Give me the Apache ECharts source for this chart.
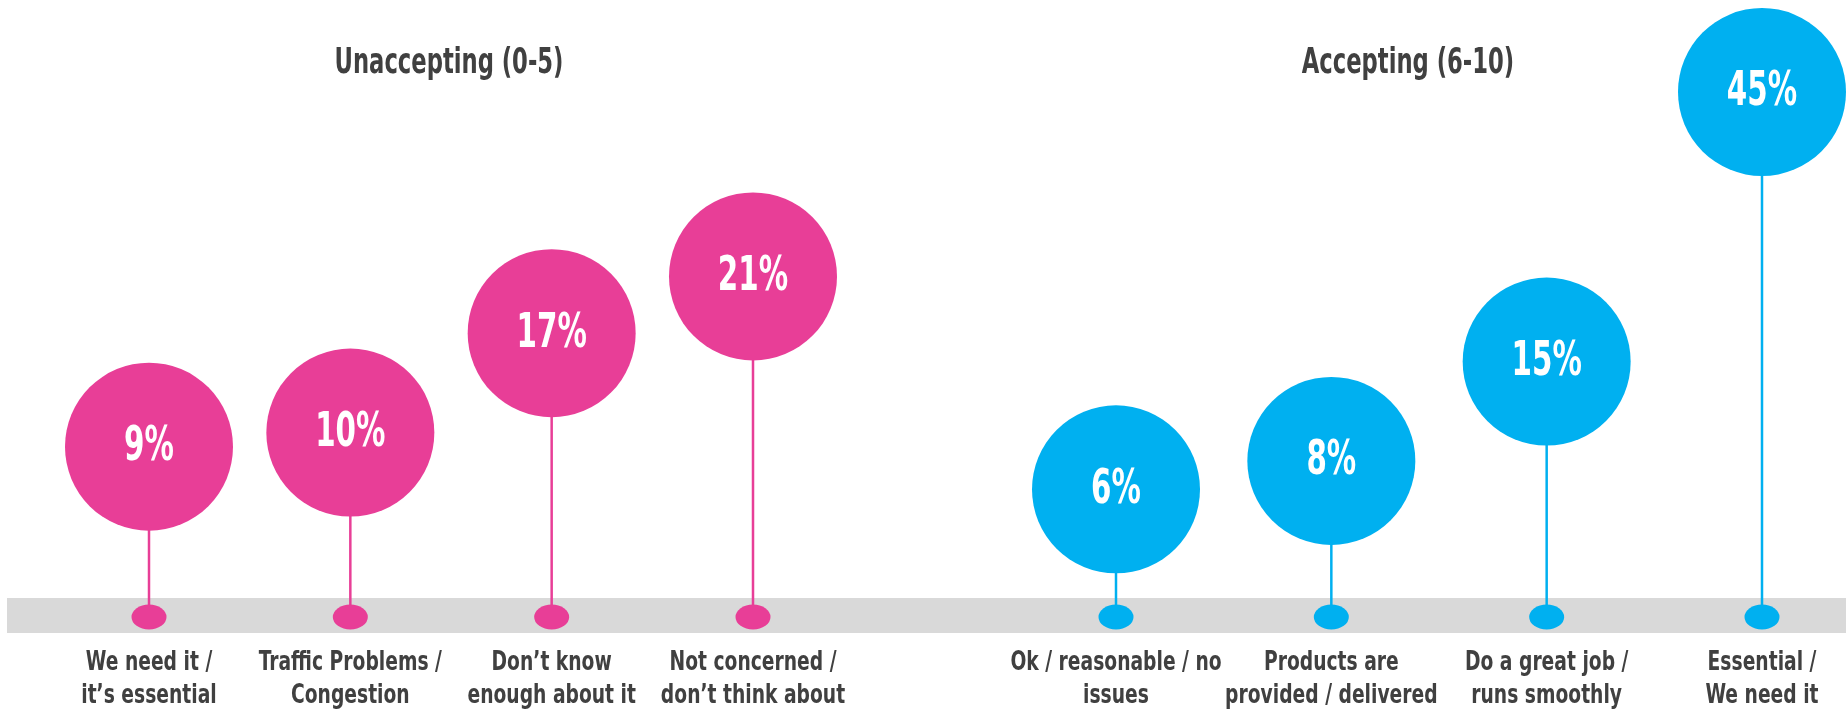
<!DOCTYPE html>
<html>
<head>
<meta charset="utf-8">
<script src="https://cdn.jsdelivr.net/npm/echarts@6/dist/echarts.min.js"></script>
<style>
html,body{margin:0;padding:0;background:#fff;}
#chart{width:1846px;height:721px;}
</style>
</head>
<body>
<div id="chart"></div>
<script>
// ---- data ----
const groupTitles = ['Unaccepting (0-5)', 'Accepting (6-10)'];
const unacceptingCategories = ['We need it /\nit’s essential', 'Traffic Problems /\nCongestion', 'Don’t know\nenough about it', 'Not concerned /\ndon’t think about'];
const unacceptingValues = [9, 10, 17, 21];
const acceptingCategories = ['Ok / reasonable / no\nissues', 'Products are\nprovided / delivered', 'Do a great job /\nruns smoothly', 'Essential /\nWe need it'];
const acceptingValues = [6, 8, 15, 45];

// ---- styling ----
const PINK = '#E83E97';
const BLUE = '#00B0F0';
const TEXT = '#404040';
const FONT = '"DejaVu Sans Condensed", "Liberation Sans Narrow", sans-serif';
const Y_MIN = -3;   // baseline (dots on the grey band)
const Y_CAP = 34;   // top of the plot; larger values are drawn at the top

const chart = echarts.init(document.getElementById('chart'), null, {renderer: 'canvas'});

function points(values, cats) {
  return values.map((v, i) => [i, Math.min(v, Y_CAP), v, cats[i]]);
}

function groupSeries(gi, values, cats, color) {
  const pts = points(values, cats);
  return [
    { // stems + category labels
      type: 'custom', xAxisIndex: gi, yAxisIndex: gi, z: 3, silent: true,
      data: pts,
      renderItem: function (params, api) {
        const i = params.dataIndex;
        const top = api.coord([api.value(0), api.value(1)]);
        const bot = api.coord([api.value(0), Y_MIN]);
        return {
          type: 'group',
          children: [
            {
              type: 'line',
              shape: {x1: bot[0], y1: bot[1], x2: top[0], y2: top[1]},
              style: {stroke: color, lineWidth: 2.5}
            },
            {
              type: 'text', x: bot[0], y: bot[1] + 30, scaleX: 0.8,
              style: {
                text: pts[i][3], fill: TEXT,
                fontFamily: FONT, fontWeight: 'bold', fontSize: 26, lineHeight: 33,
                align: 'center', verticalAlign: 'top', textAlign: 'center', textVerticalAlign: 'top'
              }
            }
          ]
        };
      }
    },
    { // dots on the band
      type: 'scatter', xAxisIndex: gi, yAxisIndex: gi, z: 4, silent: true,
      data: pts.map(p => [p[0], Y_MIN]),
      symbol: 'circle', symbolSize: [35, 25],
      itemStyle: {color: color, opacity: 1}
    },
    { // bubbles
      type: 'scatter', xAxisIndex: gi, yAxisIndex: gi, z: 5, silent: true,
      data: pts.map(p => [p[0], p[1]]),
      symbol: 'circle', symbolSize: 168,
      itemStyle: {color: color, opacity: 1}
    },
    { // percentage labels
      type: 'custom', xAxisIndex: gi, yAxisIndex: gi, z: 6, silent: true,
      data: pts,
      renderItem: function (params, api) {
        const i = params.dataIndex;
        const c = api.coord([api.value(0), api.value(1)]);
        return {
          type: 'text', x: c[0], y: c[1] + 1, scaleX: 0.68,
          style: {
            text: pts[i][2] + '%', fill: '#fff',
            fontFamily: FONT, fontWeight: 'bold', fontSize: 48,
            align: 'center', verticalAlign: 'middle', textAlign: 'center', textVerticalAlign: 'middle'
          }
        };
      }
    }
  ];
}

function xAxisFor(gi, cats) {
  return {
    type: 'category', gridIndex: gi, data: cats, boundaryGap: false,
    axisLine: {show: false}, axisTick: {show: false}, splitLine: {show: false},
    axisLabel: {show: false}
  };
}
function yAxisFor(gi) {
  return {type: 'value', gridIndex: gi, min: Y_MIN, max: Y_CAP, show: false};
}

function titleText(x, text) {
  return {
    type: 'text', z: 1, x: x, y: 64, scaleX: 0.7, silent: true,
    style: {
      text: text, fill: TEXT, fontFamily: FONT, fontWeight: 'bold', fontSize: 36,
      align: 'center', verticalAlign: 'middle', textAlign: 'center', textVerticalAlign: 'middle'
    }
  };
}

const option = {
  backgroundColor: '#fff',
  animation: false,
  grid: [
    {left: 149, width: 604, top: 92, bottom: 104},
    {left: 1116, width: 646, top: 92, bottom: 104}
  ],
  xAxis: [xAxisFor(0, unacceptingCategories), xAxisFor(1, acceptingCategories)],
  yAxis: [yAxisFor(0), yAxisFor(1)],
  graphic: [
    {type: 'rect', z: 0, silent: true, shape: {x: 7, y: 598, width: 1839, height: 35}, style: {fill: '#D9D9D9'}},
    titleText(449, groupTitles[0]),
    titleText(1408, groupTitles[1])
  ],
  series: [].concat(
    groupSeries(0, unacceptingValues, unacceptingCategories, PINK),
    groupSeries(1, acceptingValues, acceptingCategories, BLUE)
  )
};
chart.setOption(option);
</script>
</body>
</html>
